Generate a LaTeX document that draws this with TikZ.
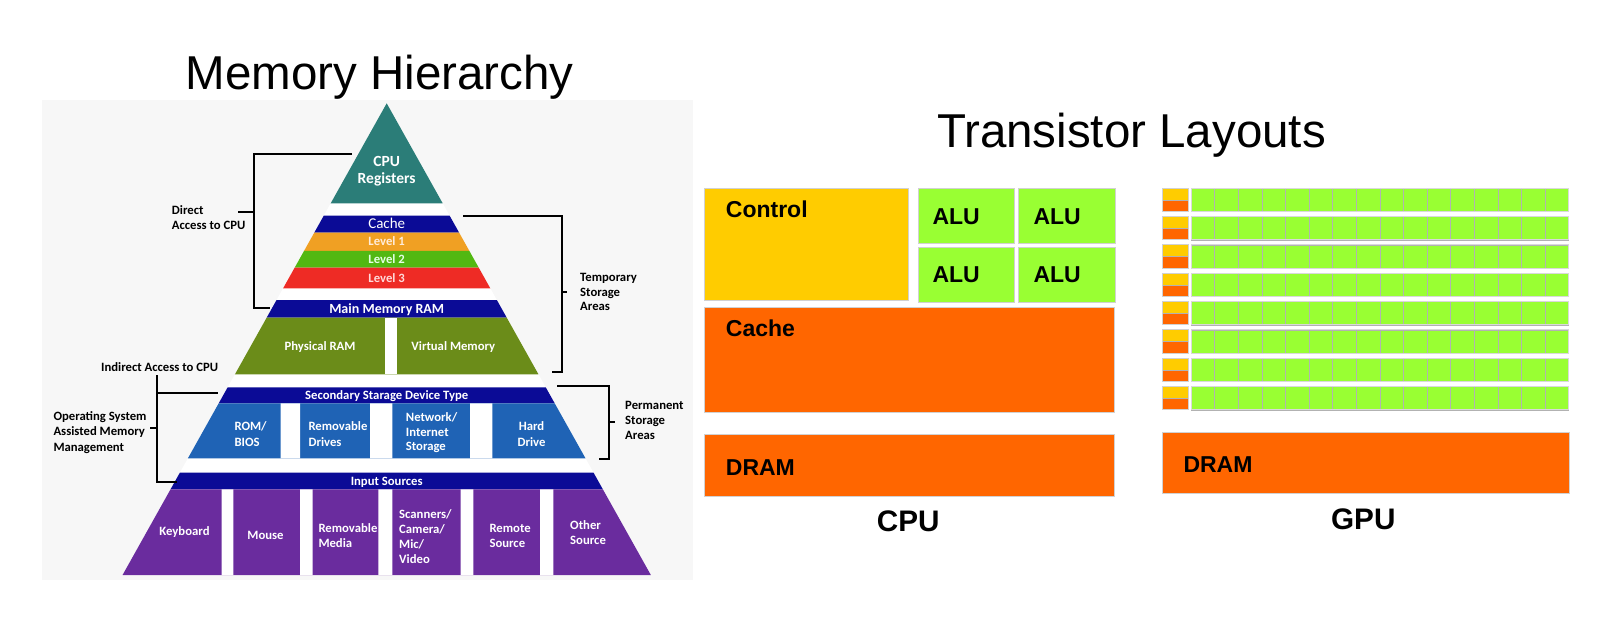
\documentclass[tikz,border=0pt]{standalone}
\usepackage{fontspec}
\setmainfont{Liberation Sans}
\newfontfamily\carl{Carlito}
\definecolor{panel}{HTML}{F7F7F7}
\definecolor{cReg}{HTML}{2B7D78}
\definecolor{cBand}{HTML}{0B0B96}
\definecolor{cLa}{HTML}{F0A023}
\definecolor{cLb}{HTML}{52B812}
\definecolor{cLc}{HTML}{EE2B25}
\definecolor{cRam}{HTML}{6B8C19}
\definecolor{cSec}{HTML}{1F63B5}
\definecolor{cInp}{HTML}{6A2C9E}
\definecolor{cYel}{HTML}{FFCC00}
\definecolor{cGrn}{HTML}{99FF33}
\definecolor{cOrg}{HTML}{FF6600}
\newcommand\pyrL[1]{({386.7-0.56*((#1)-103.3)},#1)}
\newcommand\pyrR[1]{({386.7+0.56*((#1)-103.3)},#1)}
\newcommand\pband[3]{\fill[#1] \pyrL{#2} -- \pyrR{#2} -- \pyrR{#3} -- \pyrL{#3} -- cycle;}
\tikzset{
  title/.style={font=\fontsize{47.5}{50}\selectfont, inner sep=0},
  pl/.style={font=\carl\bfseries\fontsize{12.7}{15.5}\selectfont, inner sep=0, align=left},
  pw/.style={pl, text=white},
  brk/.style={line width=2pt, black},
  cl/.style={font=\bfseries\fontsize{23}{26}\selectfont, inner sep=0},
  big/.style={font=\bfseries\fontsize{29.7}{32}\selectfont, inner sep=0},
  box/.style={draw=black!18, line width=0.8pt, inner sep=0, anchor=north west},
  cell/.style={draw=black!30, line width=0.6pt, fill=cGrn}
}
\begin{document}
\begin{tikzpicture}[x=1pt,y=-1pt]
\useasboundingbox (0,0) rectangle (1616,620);
\fill[white] (0,0) rectangle (1616,620);
\fill[panel] (42,100) rectangle (693,580);
\node[title, anchor=base] (t1) at (379.5,90) {Memory Hierarchy};
\node[title, anchor=base] (t2) at (1131.5,148) {Transistor Layouts};

% pyramid
\fill[white] (386.7,103.3) -- \pyrR{575} -- \pyrL{575} -- cycle;
\fill[cReg] (386.7,103.3) -- \pyrR{203.3} -- \pyrL{203.3} -- cycle;
\pband{cBand}{215.7}{232.7}
\pband{cLa}{232.7}{251}
\pband{cLb}{251}{267.7}
\pband{cLc}{267.7}{288.3}
\pband{cBand}{300}{317.7}
\pband{cRam}{317.7}{374.3}
\fill[white] (385,317.7) rectangle (397.3,374.3);
\pband{cBand}{387.3}{403.3}
\pband{cSec}{403.3}{458.3}
\fill[white] (280.7,403.3) rectangle (300,458.3) (370,403.3) rectangle (392.3,458.3) (470,403.3) rectangle (492.3,458.3);
\pband{cBand}{472.7}{489.3}
\pband{cInp}{489.3}{575}
\fill[white] (221.7,489.3) rectangle (233.3,575) (300,489.3) rectangle (312.7,575) (378.3,489.3) rectangle (392.3,575) (460.7,489.3) rectangle (473.3,575) (540,489.3) rectangle (553.3,575);

% pyramid texts (multi-line nodes: base = last line)
\node[pw, align=center, anchor=base, font=\carl\bfseries\fontsize{15.5}{16.3}\selectfont] (reg) at (386.7,183.2) {CPU\\Registers};
\node[pw, anchor=base, font=\carl\fontsize{15}{16}\selectfont] (cache) at (386.7,229) {Cache};
\node[pl, anchor=base, text=orange!15] (l1) at (386.7,245.8) {Level 1};
\node[pl, anchor=base, text=green!10] (l2) at (386.7,263.3) {Level 2};
\node[pl, anchor=base, text=red!15] (l3) at (386.7,282) {Level 3};
\node[pw, anchor=base, font=\carl\bfseries\fontsize{14}{15}\selectfont] (mm) at (386.7,313.3) {Main Memory RAM};
\node[pw, anchor=base] (pram) at (320,350.8) {Physical RAM};
\node[pw, anchor=base] (vmem) at (453.3,350.8) {Virtual Memory};
\node[pw, anchor=base] (sec) at (386.7,399.4) {Secondary Starage Device Type};
\node[pw, anchor=base west] (rom) at (234.3,446.3) {ROM/\\BIOS};
\node[pw, anchor=base west] (rdr) at (308.3,446.3) {Removable\\Drives};
\node[pw, anchor=base west, font=\carl\bfseries\fontsize{12.7}{14.7}\selectfont] (net) at (405.7,450.8) {Network/\\Internet\\Storage};
\node[pw, anchor=base, align=center] (hd) at (531.5,446.3) {Hard\\Drive};
\node[pw, anchor=base] (inp) at (386.7,485.1) {Input Sources};
\node[pw, anchor=base] (kb) at (184.5,535.8) {Keyboard};
\node[pw, anchor=base] (mouse) at (265.5,539.1) {Mouse};
\node[pw, anchor=base west, font=\carl\bfseries\fontsize{12.7}{15}\selectfont] (rmed) at (318.3,547.4) {Removable\\Media};
\node[pw, anchor=base west, font=\carl\bfseries\fontsize{12.7}{15.1}\selectfont] (scan) at (399,563.4) {Scanners/\\Camera/\\Mic/\\Video};
\node[pw, anchor=base west, font=\carl\bfseries\fontsize{12.7}{15}\selectfont] (rsrc) at (489.3,547.4) {Remote\\Source};
\node[pw, anchor=base west, font=\carl\bfseries\fontsize{12.7}{15.7}\selectfont] (osrc) at (570,544.8) {Other\\Source};

% side labels
\node[pl, anchor=base west, font=\carl\bfseries\fontsize{12.7}{15.7}\selectfont] (direct) at (171.7,229.8) {Direct\\Access to CPU};
\node[pl, anchor=base west, font=\carl\bfseries\fontsize{12.7}{14.5}\selectfont] (temp) at (580,310.8) {Temporary\\Storage\\Areas};
\node[pl, anchor=base west, font=\carl\bfseries\fontsize{12.7}{15.3}\selectfont] (perm) at (625,439.7) {Permanent\\Storage\\Areas};
\node[pl, anchor=base west] (indir) at (101,371.4) {Indirect Access to CPU};
\node[pl, anchor=base west, font=\carl\bfseries\fontsize{12.7}{15.7}\selectfont] (os) at (53.3,451.5) {Operating System\\Assisted Memory\\Management};

% brackets
\draw[brk] (352,154) -- (254.3,154) -- (254.3,308.3) -- (270,308.3);
\draw[brk] (238,211.7) -- (254.3,211.7);
\draw[brk] (463.3,215.7) -- (562.3,215.7) -- (562.3,372.3) -- (551.7,372.3);
\draw[brk] (562.3,292.3) -- (567,292.3);
\draw[brk] (557.3,385.7) -- (609.3,385.7) -- (609.3,459.3) -- (599.3,459.3);
\draw[brk] (609.3,421.7) -- (615,421.7);
\draw[brk] (157.3,375) -- (157.3,481.7) -- (176.7,481.7);
\draw[brk] (157.3,392.7) -- (218.3,392.7);
\draw[brk] (150,428.3) -- (157.3,428.3);

% CPU
\node[box, fill=cYel, minimum width=203.4pt, minimum height=111.7pt] (ctrl) at (704.3,188.3) {};
\node[box, fill=cGrn, minimum width=96.3pt, minimum height=55pt] (alu1) at (917.7,188.3) {};
\node[box, fill=cGrn, minimum width=96.7pt, minimum height=55pt] (alu2) at (1018.3,188.3) {};
\node[box, fill=cGrn, minimum width=96.3pt, minimum height=55.6pt] (alu3) at (917.7,246.7) {};
\node[box, fill=cGrn, minimum width=96.7pt, minimum height=55.6pt] (alu4) at (1018.3,246.7) {};
\node[box, fill=cOrg, minimum width=410pt, minimum height=105.6pt] (ccache) at (704.3,306.7) {};
\node[box, fill=cOrg, minimum width=410pt, minimum height=61.7pt] (cdram) at (704.3,434.3) {};
\node[cl, anchor=base west] (tctrl) at (725.7,217.3) {Control};
\node[cl, anchor=base west] (ta1) at (932.3,224.7) {ALU};
\node[cl, anchor=base west] (ta2) at (1033.3,224.7) {ALU};
\node[cl, anchor=base west] (ta3) at (932.3,283) {ALU};
\node[cl, anchor=base west] (ta4) at (1033.3,283) {ALU};
\node[cl, anchor=base west] (tcache) at (725.7,336) {Cache};
\node[cl, anchor=base west] (tdram) at (725.7,475) {DRAM};
\node[big, anchor=base] (tcpu) at (908.3,531.5) {CPU};

% GPU
\foreach \i in {0,...,7} {
  \pgfmathsetmacro\ty{188.3+28.3*\i}
  \fill[cYel] (1162.3,\ty) rectangle (1188.3,\ty+11.7);
  \fill[cOrg] (1162.3,\ty+11.7) rectangle (1188.3,\ty+23.4);
  \draw[black!30, line width=0.6pt] (1162.3,\ty+11.7) -- (1188.3,\ty+11.7);
  \draw[black!18, line width=1pt] (1162.3,\ty) rectangle (1188.3,\ty+23.4);
  \foreach \j in {0,...,15} {
    \draw[cell] ({1191+23.6*\j},\ty) rectangle ++(23.6,23.4);
  }
  \draw[black!15, line width=1pt] (1191,\ty) rectangle (1568.6,\ty+23.4);
}
\node[box, fill=cOrg, minimum width=406.7pt, minimum height=61pt] (gdram) at (1162.3,432.3) {};
\node[cl, anchor=base west] (tgdram) at (1183.3,472.3) {DRAM};
\node[big, anchor=base] (tgpu) at (1363.3,529) {GPU};
\end{tikzpicture}
\end{document}
